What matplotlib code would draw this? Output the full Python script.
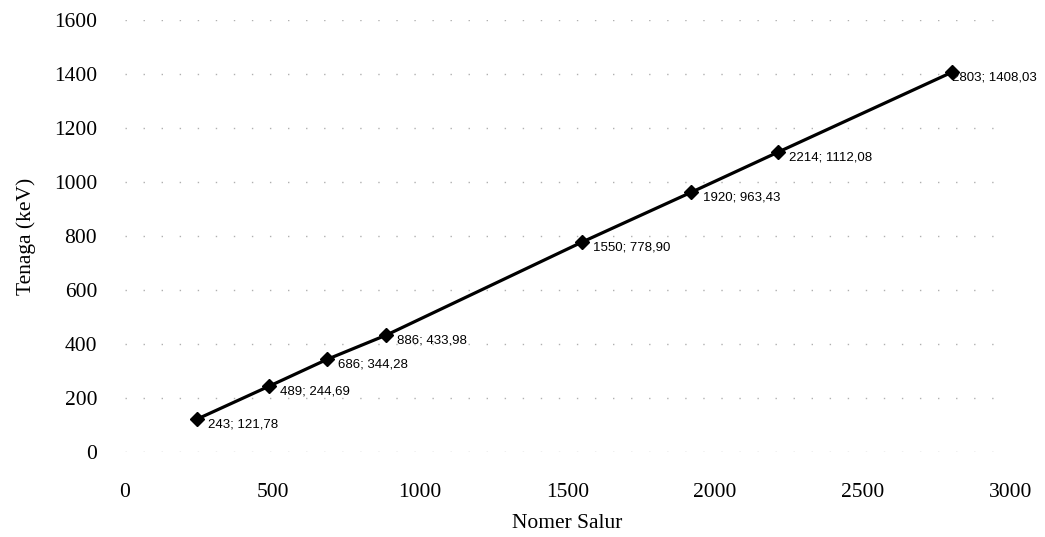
import matplotlib.pyplot as plt

# channel number vs energy calibration
channels = [243, 489, 686, 886, 1550, 1920, 2214, 2803]
energies = [121.78, 244.69, 344.28, 433.98, 778.90, 963.43, 1112.08, 1408.03]
point_labels = ['243; 121,78', '489; 244,69', '686; 344,28', '886; 433,98',
                '1550; 778,90', '1920; 963,43', '2214; 1112,08', '2803; 1408,03']

x_ticks = [0, 500, 1000, 1500, 2000, 2500, 3000]
y_ticks = [0, 200, 400, 600, 800, 1000, 1200, 1400, 1600]

serif = 'Liberation Serif'

fig = plt.figure(figsize=(10.45, 5.37), dpi=100)
ax = fig.add_axes([0.1196, 0.158, 0.847, 0.804])

ax.plot(channels, energies, color='black', linewidth=2.3, marker='D',
        markersize=7, zorder=3)
for i, (x, y, s) in enumerate(zip(channels, energies, point_labels)):
    # last label sits on top of its marker, as in the original
    dx = 0 if i == len(channels) - 1 else 8
    ax.annotate(s, (x, y), xytext=(dx, -4), textcoords='offset points',
                ha='left', va='center', fontsize=9.5,
                family='Liberation Sans', color='black', zorder=4)

ax.set_xlim(0, 3000)
ax.set_ylim(0, 1600)
ax.set_xticks(x_ticks)
ax.set_yticks(y_ticks)
ax.set_xticklabels([str(t) for t in x_ticks], family=serif, fontsize=15.5)
ax.set_yticklabels([str(t) for t in y_ticks], family=serif, fontsize=15.5)
ax.tick_params(length=0)
ax.tick_params(axis='x', pad=22)
ax.tick_params(axis='y', pad=20)
for sp in ax.spines.values():
    sp.set_visible(False)

ax.grid(axis='y', color='#b0b0b0', linestyle=(0, (1, 12)), linewidth=1)
ax.set_axisbelow(True)

ax.set_xlabel('Nomer Salur', family=serif, fontsize=15.5, labelpad=9)
ax.set_ylabel('Tenaga (keV)', family=serif, fontsize=15.5, labelpad=13)

fig.savefig('out.png', dpi=100)
